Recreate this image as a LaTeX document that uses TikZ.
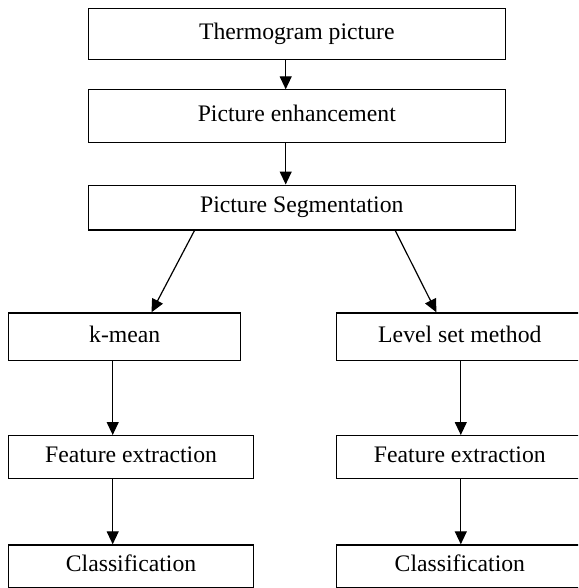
\documentclass[tikz,border=0pt]{standalone}
\usepackage{fontspec}
\setmainfont{Liberation Serif}
\usetikzlibrary{arrows.meta}
\begin{document}
\begin{tikzpicture}[x=1pt,y=-1pt,
  box/.style={draw=black, line width=1.2pt, inner sep=0pt, anchor=north west,
    font=\fontsize{23.7}{28}\selectfont, text height=16.6pt, text depth=5.9pt},
  arr/.style={draw=black, line width=1.2pt, -{Triangle[length=13pt,width=12pt]}}]
\useasboundingbox (0,0) rectangle (578,588);
\clip (0,0) rectangle (578,588);
\node[box, minimum width=417pt, minimum height=51pt] (b1) at (87.7,8) {Thermogram picture};
\node[box, minimum width=417pt, minimum height=52.4pt] (b2) at (87.7,89.3) {Picture enhancement};
\node[box, minimum width=427pt, minimum height=44.8pt] (b3) at (87.7,184.5) {Picture Segmentation};
\node[box, minimum width=232pt, minimum height=47.7pt] (km) at (8.1,312.3) {k-mean};
\node[box, minimum width=247.5pt, minimum height=47.7pt] (ls) at (335.5,312.3) {\makebox[247.5pt]{Level set method}\hspace*{20pt}};
\node[box, minimum width=244.7pt, minimum height=43pt] (fe1) at (8.1,435) {Feature extraction};
\node[box, minimum width=247.5pt, minimum height=43pt] (fe2) at (335.5,435) {\makebox[247.5pt]{Feature extraction}\hspace*{20pt}};
\node[box, minimum width=244.7pt, minimum height=43pt] (cl1) at (8.1,544.3) {Classification};
\node[box, minimum width=247.5pt, minimum height=43pt] (cl2) at (335.5,544.3) {\makebox[247.5pt]{Classification}\hspace*{20pt}};
\draw[arr] ([xshift=198pt]b1.south west) -- ([xshift=198pt]b2.north west);
\draw[arr] ([xshift=198pt]b2.south west) -- ([xshift=198pt]b3.north west);
\draw[arr] ([xshift=106.8pt]b3.south west) -- ([xshift=143.4pt]km.north west);
\draw[arr] ([xshift=307.5pt]b3.south west) -- ([xshift=100.9pt]ls.north west);
\draw[arr] ([xshift=104.6pt]km.south west) -- ([xshift=104.6pt]fe1.north west);
\draw[arr] ([xshift=104.6pt]fe1.south west) -- ([xshift=104.6pt]cl1.north west);
\draw[arr] ([xshift=125.3pt]ls.south west) -- ([xshift=125.3pt]fe2.north west);
\draw[arr] ([xshift=125.3pt]fe2.south west) -- ([xshift=125.3pt]cl2.north west);
\end{tikzpicture}
\end{document}
